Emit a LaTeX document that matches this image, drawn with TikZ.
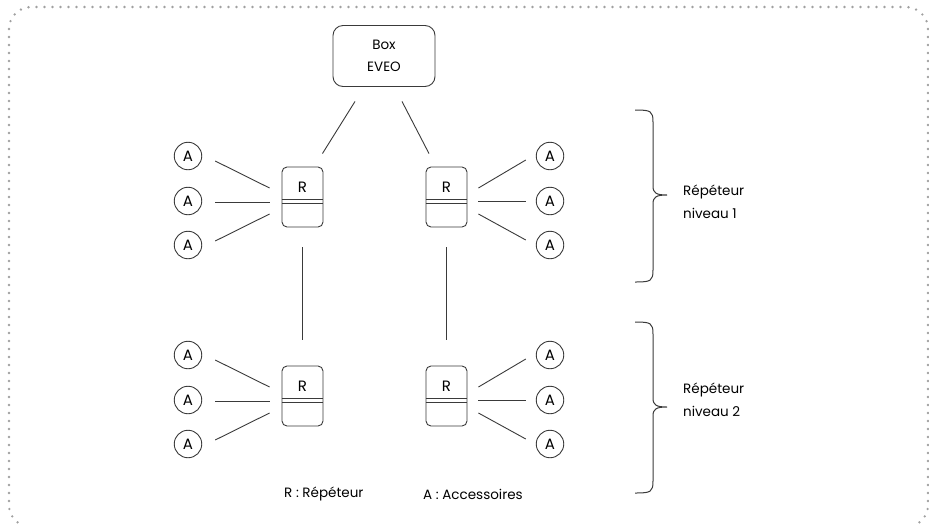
\documentclass[tikz,border=0pt]{standalone}
\usepackage{fontspec}
\setmainfont{Poppins}
\definecolor{linec}{HTML}{3A3A3A}
\definecolor{dotc}{HTML}{A0A0A0}
\begin{document}
\begin{tikzpicture}[x=1pt,y=-1pt,
  txt/.style={font=\fontsize{13.5}{23}\selectfont, text=black, inner sep=0pt},
  acc/.style={circle, draw=linec, line width=0.9pt, minimum size=27.5pt, inner sep=0pt, font=\fontsize{15}{15}\selectfont},
  rep/.style={draw=linec, line width=0.9pt, rounded corners=5pt, minimum width=41pt, minimum height=60pt, inner sep=0pt},
  boxeveo/.style={draw=linec, line width=0.9pt, rounded corners=10pt, minimum width=102pt, minimum height=61pt, align=center, font=\fontsize{13.5}{22}\selectfont},
  conn/.style={draw=linec, line width=0.9pt},
  bracec/.style={draw=linec, line width=1pt}
]
\useasboundingbox (0,0) rectangle (929,523);
\begin{scope}
\clip (0,0) rectangle (929,523);
\draw[dotc, line width=2.6pt, line cap=round, dash pattern=on 0pt off 8pt, rounded corners=22pt] (9,7) rectangle (928,527);
\end{scope}

% Box EVEO
\node[boxeveo] (box) at (384,56) {Box\\EVEO};

% Repeaters
\foreach \n/\x/\y in {r1/302.5/197, r2/446.5/197, r3/302.5/396, r4/446.5/396}{
  \node[rep] (\n) at (\x,\y) {};
  \node[txt, font=\fontsize{15}{15}\selectfont] (\n t) at ([yshift=10pt]\n.center) {R};
  \draw[conn] ([yshift=-2pt]\n.west) -- ([yshift=-2pt]\n.east);
  \draw[conn] ([yshift=-6pt]\n.west) -- ([yshift=-6pt]\n.east);
}

% Accessories
\foreach \n/\x/\y in {a1/188/156, a2/188/201, a3/188/245, a4/550/156, a5/550/201, a6/550/245,
                      a7/188/355, a8/188/400, a9/188/444, a10/550/355, a11/550/400, a12/550/444}{
  \node[acc] (\n) at (\x,\y) {A};
}

% Box to repeaters
\draw[conn] ([shift={(-29,14.5)}]box.south) -- ([shift={(-1,-13)}]r1.north east);
\draw[conn] ([shift={(18,14.5)}]box.south) -- ([shift={(-17.5,-13)}]r2.north);

% Level 1 to level 2
\draw[conn] ([yshift=-20]r1.south) -- ([yshift=26]r3.north);
\draw[conn] ([yshift=-20]r2.south) -- ([yshift=26]r4.north);

% Accessory links
\foreach \r/\u/\m/\l in {r1/a1/a2/a3, r3/a7/a8/a9}{
  \draw[conn] ([shift={(13,5)}]\u.east) -- ([shift={(-12,-9)}]\r.west);
  \draw[conn] ([shift={(13,1)}]\m.east) -- ([shift={(-12,5)}]\r.west);
  \draw[conn] ([shift={(13,-4)}]\l.east) -- ([shift={(-12,17)}]\r.west);
}
\foreach \r/\u/\m/\l in {r2/a4/a5/a6, r4/a10/a11/a12}{
  \draw[conn] ([shift={(11,-9)}]\r.east) -- ([shift={(-10,4)}]\u.west);
  \draw[conn] ([shift={(11,4)}]\r.east) -- ([shift={(-10,0)}]\m.west);
  \draw[conn] ([shift={(11,17)}]\r.east) -- ([shift={(-10,-5)}]\l.west);
}

% Braces
\draw[bracec] (635,110) .. controls (651,110) and (653,111) .. (653,122) -- (653,186)
  .. controls (653,193) and (656,195) .. (667,195)
  .. controls (656,195) and (653,197) .. (653,204) -- (653,270)
  .. controls (653,281) and (651,282) .. (635,282);
\draw[bracec] (635,322) .. controls (651,322) and (653,323) .. (653,334) -- (653,398)
  .. controls (653,405) and (656,407) .. (667,407)
  .. controls (656,407) and (653,409) .. (653,416) -- (653,481)
  .. controls (653,492) and (651,493) .. (635,493);

% Labels
\node[txt, anchor=west, align=left] (lev1) at (683,202) {Répéteur\\niveau 1};
\node[txt, anchor=west, align=left] (lev2) at (683,400) {Répéteur\\niveau 2};
\node[txt, anchor=west] (legr) at (284,494) {R : Répéteur};
\node[txt, anchor=west] (lega) at (423,494) {A : Accessoires};
\end{tikzpicture}
\end{document}
